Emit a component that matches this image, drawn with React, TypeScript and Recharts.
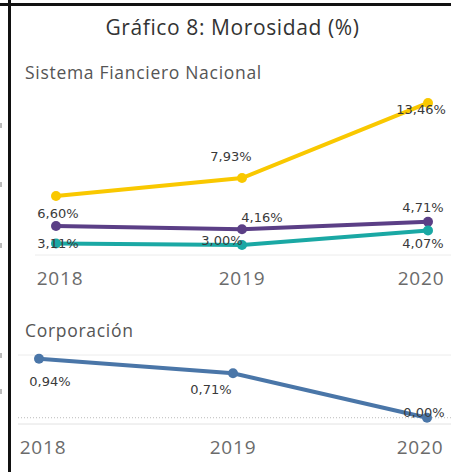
import { LineChart, Line, XAxis, YAxis, LabelList, CartesianGrid, ReferenceLine } from 'recharts'

const years = ['2018', '2019', '2020']
const sfnYellow = [6.6, 7.93, 13.46]
const sfnPurple = [4.4, 4.16, 4.71]
const sfnTeal = [3.11, 3.0, 4.07]
const corp = [0.94, 0.71, 0.0]
const corpTicks = [0, 0.5, 1]

const sfnData = years.map((y, i) => ({ year: y, yellow: sfnYellow[i], purple: sfnPurple[i], teal: sfnTeal[i] }))
const corpData = years.map((y, i) => ({ year: y, corp: corp[i] }))

// label offsets per point (dx, dy), null = hidden
const yellowLabels = [[2, 17], [-11, -22], [-7, 7]]
const purpleLabels = [null, [20, -12], [-5, -14]]
const tealLabels = [[2, 0], [-20, -4], [-5, 13]]
const corpLabels = [[11, 23], [-22, 16], [-3, -5]]

const fmt = (v: number) => v.toFixed(2).replace('.', ',') + '%'
const labelFont = { fontFamily: 'DejaVu Sans', fontSize: 13, fill: '#3a3a3a' }

const makeLabel = (offsets: (number[] | null)[]) => (props: any) => {
  const { x, y, value, index } = props
  const off = offsets[index]
  if (!off) return null
  return (
    <text x={x + off[0]} y={y + off[1]} textAnchor="middle" dominantBaseline="central" {...labelFont}>
      {fmt(value)}
    </text>
  )
}

const tickShift = [4, 0, -7]
const YearTick = (props: any) => {
  const { x, y, payload, index } = props
  return (
    <text x={x + tickShift[index]} y={y} dy={22} textAnchor="middle" fontFamily="Open Sans" fontSize={19} letterSpacing={0.8} fill="#6b6b6b">
      {payload.value}
    </text>
  )
}

const subStyle = { position: 'absolute' as const, left: 25, fontFamily: 'Open Sans', fontSize: 17.5, letterSpacing: 0.7, color: '#555', whiteSpace: 'nowrap' as const }

export default function App() {
  return (
    <div style={{ position: 'absolute', left: 0, top: 0, width: 451, height: 472, background: '#fff', overflow: 'hidden' }}>
      <div style={{ position: 'absolute', left: 0, top: 3, width: 451, height: 3, background: '#111' }} />
      <div style={{ position: 'absolute', left: 8, top: 0, width: 3, height: 472, background: '#111' }} />
      {[123, 182, 243, 353, 389].map((t) => (
        <div key={t} style={{ position: 'absolute', left: 0, top: t, width: 2, height: 5, background: '#bbb' }} />
      ))}
      <div style={{ position: 'absolute', left: 0, width: 465, top: 13, textAlign: 'center', fontFamily: 'Open Sans', fontSize: 21, letterSpacing: 0.6, color: '#333', whiteSpace: 'nowrap' }}>
        Gráfico 8: Morosidad (%)
      </div>
      <div style={{ ...subStyle, top: 60 }}>Sistema Fianciero Nacional</div>
      <div style={{ ...subStyle, top: 318 }}>Corporación</div>

      <div style={{ position: 'absolute', left: 0, top: 0 }}>
        <LineChart width={451} height={295} data={sfnData} margin={{ top: 97, right: 0, bottom: 0, left: 35 }}>
          <XAxis dataKey="year" padding={{ left: 21, right: 23 }} axisLine={{ stroke: '#ececec' }} tickLine={false} height={40} tick={<YearTick />} interval={0} />
          <YAxis width={0} domain={[2.26, 13.9]} tick={false} tickLine={false} axisLine={{ stroke: '#f0f0f0' }} />
          <Line dataKey="yellow" stroke="#f9c800" strokeWidth={4} dot={{ r: 5, fill: '#f9c800', stroke: 'none' }} isAnimationActive={false}>
            <LabelList content={makeLabel(yellowLabels)} />
          </Line>
          <Line dataKey="purple" stroke="#5b3f86" strokeWidth={4} dot={{ r: 5, fill: '#5b3f86', stroke: 'none' }} isAnimationActive={false}>
            <LabelList content={makeLabel(purpleLabels)} />
          </Line>
          <Line dataKey="teal" stroke="#1aa8a4" strokeWidth={4} dot={{ r: 5, fill: '#1aa8a4', stroke: 'none' }} isAnimationActive={false}>
            <LabelList content={makeLabel(tealLabels)} />
          </Line>
        </LineChart>
      </div>

      <div style={{ position: 'absolute', left: 0, top: 0 }}>
        <LineChart width={451} height={464} data={corpData} margin={{ top: 355, right: 0, bottom: 0, left: 18 }}>
          <CartesianGrid vertical={false} stroke="#ececec" />
          <XAxis dataKey="year" padding={{ left: 21, right: 24 }} axisLine={{ stroke: '#ececec' }} tickLine={false} height={40} tick={<YearTick />} interval={0} />
          <YAxis width={0} domain={[-0.1, 1]} ticks={corpTicks} tick={false} tickLine={false} axisLine={{ stroke: '#f0f0f0' }} />
          <ReferenceLine y={0} stroke="#bbb" strokeDasharray="1 2" />
          <Line dataKey="corp" stroke="#4a76a8" strokeWidth={4} dot={{ r: 5, fill: '#4a76a8', stroke: 'none' }} isAnimationActive={false}>
            <LabelList content={makeLabel(corpLabels)} />
          </Line>
        </LineChart>
      </div>
    </div>
  )
}
